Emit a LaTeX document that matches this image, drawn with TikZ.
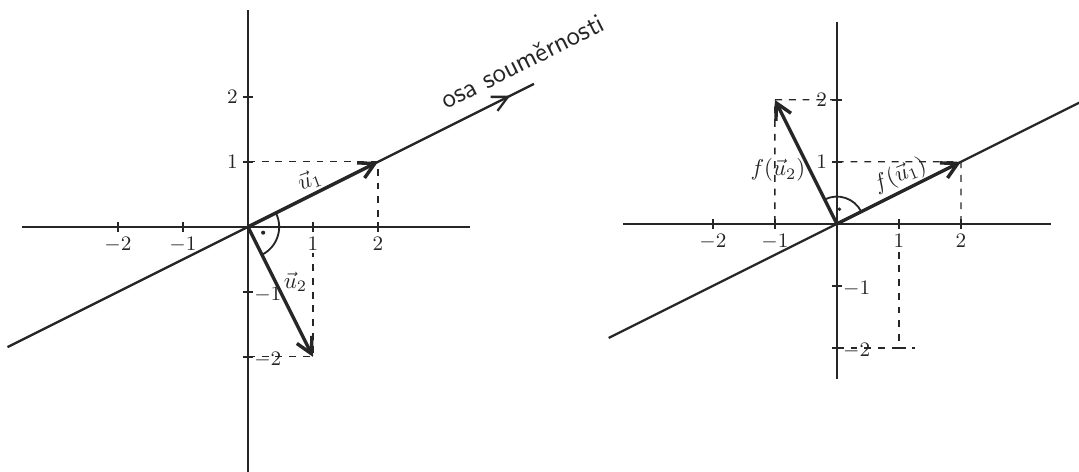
\documentclass[tikz,border=0pt]{standalone}
\usepackage{amsmath}
\usepackage{xcolor}
\usepackage{tikz}
\usetikzlibrary{arrows.meta,decorations.markings}
\definecolor{ink}{HTML}{262626}

\begin{document}
\begin{tikzpicture}[
  font=\sffamily,
  ax/.style={line width=0.8pt, draw=ink},
  symline/.style={line width=1.0pt, draw=ink},
  vecarr/.style={line width=1.5pt, draw=ink, -{Straight Barb[length=2.4mm, width=2.6mm]}},
  helper/.style={line width=0.55pt, draw=ink, dash pattern=on 3pt off 3pt},
  ticklbl/.style={font=\sffamily\small, text=ink, inner sep=2pt},
  veclbl/.style={text=ink, inner sep=1pt},
  anglemark/.style={line width=0.8pt, draw=ink}
]
\useasboundingbox (-3.815,-3.77) rectangle (12.785,3.49);

% ---- left: vectors u1, u2 ----
\coordinate (O1) at (0,0);
\coordinate (U1) at (2,1);
\coordinate (U2) at (1,-2);
\coordinate (S1a) at (-3.7,-1.85);
\coordinate (S1b) at (4.4,2.2);

% Axes
\draw[ax] (-3.48,0) -- (3.42,0);
\draw[ax] (0,3.34) -- (0,-3.77);
\foreach \x in {-2,-1,1,2}
  \draw[ax] (\x,-0.08) -- (\x,0.08);
\foreach \y in {-2,-1,1,2}
  \draw[ax] (-0.08,\y) -- (0.08,\y);
\foreach \x in {-2,-1,1,2}
  \node[ticklbl, below] at (\x,-0.08) {$\x$};
\foreach \y in {1,2}
  \node[ticklbl, left] at (-0.08,\y) {$\y$};
\foreach \y in {-1,-2}
  \node[ticklbl, right] at (0.02,\y-0.05) {$\y$};

% Helper lines
\draw[helper] (0,1) -- (U1) -- (2,0);
\draw[helper] (0,-2) -- (U2) -- (1,-0.4);

% Axis of symmetry
\draw[symline, postaction={decorate}, decoration={markings,
  mark=at position 0.955 with {\arrow{Straight Barb[length=2.4mm, width=2.4mm]}}}]
  (S1a) -- (S1b);
\node[anchor=base west, rotate=26.6, inner sep=0pt, text=ink, font=\sffamily\large]
  (osa) at (3.05,1.8) {osa souměrnosti};

% Vectors
\draw[vecarr] (O1) -- (U1);
\draw[vecarr] (O1) -- (U2);
\node[veclbl, rotate=20] (lu1) at (0.95,0.72) {$\vec{u}_1$};
\node[veclbl] (lu2) at (0.73,-0.85) {$\vec{u}_2$};

% Right angle
\draw[anglemark] (26.6:0.48) arc[start angle=26.6, end angle=-63.4, radius=0.48];
\fill[ink] (-21:0.25) circle (0.9pt);

% ---- right: images f(u1), f(u2) ----
\begin{scope}[shift={(9.06,0.046)}, scale=0.954]
\coordinate (O2) at (0,0);
\coordinate (F1) at (2,1);
\coordinate (F2) at (-1,2);
\coordinate (S2a) at (-3.68,-1.84);
\coordinate (S2b) at (3.95,1.975);

% Axes
\draw[ax] (-3.45,0) -- (3.45,0);
\draw[ax] (0,3.26) -- (0,-2.5);
\foreach \x in {-2,-1,1,2}
  \draw[ax] (\x,-0.08) -- (\x,0.08);
\foreach \y in {-2,-1,1,2}
  \draw[ax] (-0.08,\y) -- (0.08,\y);
\foreach \x in {-2,-1,1,2}
  \node[ticklbl, below] at (\x,-0.08) {$\x$};
\foreach \y in {1,2}
  \node[ticklbl, left] at (-0.08,\y) {$\y$};
\foreach \y in {-1,-2}
  \node[ticklbl, right] at (0.02,\y-0.05) {$\y$};

% Helper lines
\draw[helper] (0,1) -- (F1) -- (2,0);
\draw[helper] (0,2) -- (F2) -- (-1,0);
\draw[helper] (1,-0.45) -- (1,-2) -- (1.26,-2);
\draw[helper] (0,-2) -- (1,-2);

% Axis of symmetry
\draw[symline] (S2a) -- (S2b);

% Vectors
\draw[vecarr] (O2) -- (F1);
\draw[vecarr] (O2) -- (F2);
\node[veclbl, rotate=22] (lf1) at (1.02,0.78) {$f(\vec{u}_1)$};
\node[veclbl] (lf2) at (-0.95,0.87) {$f(\vec{u}_2)$};

% Right angle
\draw[anglemark] (26.6:0.44) arc[start angle=26.6, end angle=116.6, radius=0.44];
\fill[ink] (80:0.24) circle (0.9pt);
\end{scope}
\end{tikzpicture}
\end{document}
